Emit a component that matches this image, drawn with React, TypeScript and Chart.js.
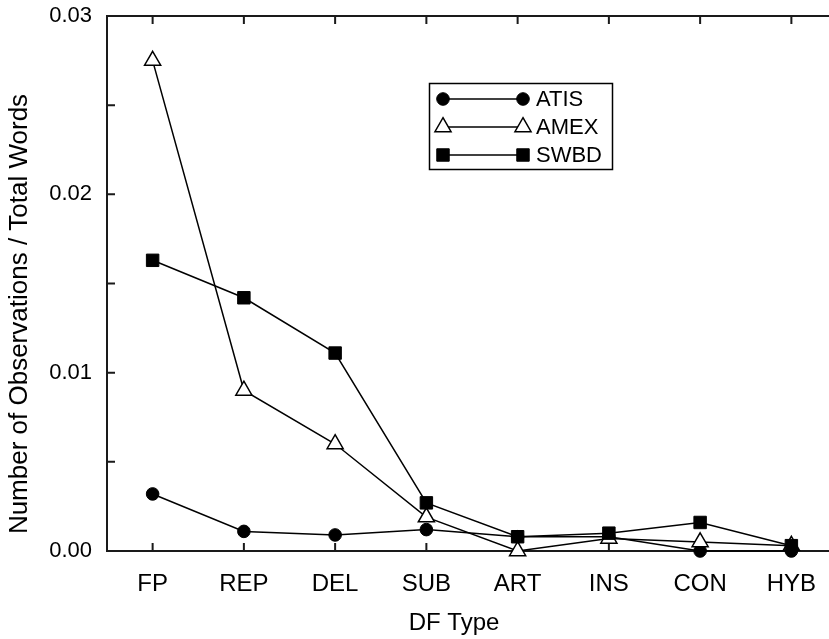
import React, { useEffect, useRef } from "react";
import { Chart, registerables } from "chart.js";
import { drawPoint } from "chart.js/helpers";

Chart.register(...registerables);

const categories = ["FP", "REP", "DEL", "SUB", "ART", "INS", "CON", "HYB"];
const atis = [0.0032, 0.0011, 0.0009, 0.0012, 0.0008, 0.0008, 0.0, 0.0];
const amex = [0.0275, 0.009, 0.006, 0.0019, 0.0, 0.0007, 0.0005, 0.0003];
const swbd = [0.0163, 0.0142, 0.0111, 0.0027, 0.0008, 0.001, 0.0016, 0.0003];
const yTickValues = [0, 0.01, 0.02, 0.03];
const yTickLabels = ["0.00", "0.01", "0.02", "0.03"];
const xTitle = "DF Type";
const yTitle = "Number of Observations / Total Words";

const FONT = "'Liberation Sans', Arial, Helvetica, sans-serif";

const framePlugin = {
  id: "frame",
  beforeDatasetsDraw(chart: any) {
    const { ctx, chartArea: a, scales } = chart;
    ctx.save();
    ctx.strokeStyle = "#1a1a1a";
    ctx.lineWidth = 2;
    ctx.strokeRect(a.left, a.top, a.right - a.left, a.bottom - a.top);
    const T = 8;
    ctx.beginPath();
    scales.x.ticks.forEach((_t: any, i: number) => {
      const px = scales.x.getPixelForTick(i);
      ctx.moveTo(px, a.bottom);
      ctx.lineTo(px, a.bottom - T);
      ctx.moveTo(px, a.top);
      ctx.lineTo(px, a.top + T);
    });
    scales.y.ticks.forEach((_t: any, i: number) => {
      const py = scales.y.getPixelForTick(i);
      ctx.moveTo(a.left, py);
      ctx.lineTo(a.left + T, py);
      ctx.moveTo(a.right, py);
      ctx.lineTo(a.right - T, py);
    });
    ctx.stroke();
    ctx.restore();
  },
};

const titlesPlugin = {
  id: "titles",
  afterDraw(chart: any) {
    const { ctx } = chart;
    ctx.save();
    ctx.fillStyle = "#000";
    ctx.textAlign = "center";
    ctx.textBaseline = "middle";
    ctx.font = `24px ${FONT}`;
    ctx.fillText(xTitle, 454, 623);
    ctx.translate(20, 314);
    ctx.rotate(-Math.PI / 2);
    ctx.font = `26px ${FONT}`;
    ctx.fillText(yTitle, 0, 0);
    ctx.restore();
  },
};

const legendPlugin = {
  id: "customLegend",
  afterDraw(chart: any) {
    const { ctx } = chart;
    const box = { x: 429.5, y: 83.5, w: 183, h: 86 };
    ctx.save();
    ctx.strokeStyle = "#000";
    ctx.lineWidth = 1.5;
    ctx.strokeRect(box.x, box.y, box.w, box.h);
    chart.data.datasets.forEach((ds: any, i: number) => {
      const y = 99 + 28 * i;
      const x1 = 443;
      const x2 = 523;
      ctx.strokeStyle = "#000";
      ctx.lineWidth = 1.5;
      ctx.beginPath();
      ctx.moveTo(x1, y);
      ctx.lineTo(x2, y);
      ctx.stroke();
      ctx.fillStyle = ds.pointBackgroundColor;
      ctx.strokeStyle = ds.pointBorderColor;
      ctx.lineWidth = ds.pointBorderWidth;
      const opts = {
        pointStyle: ds.pointStyle,
        radius: ds.pointRadius,
        borderWidth: ds.pointBorderWidth,
        rotation: 0,
      };
      drawPoint(ctx, opts, x1, y);
      drawPoint(ctx, opts, x2, y);
      ctx.fillStyle = "#000";
      ctx.font = `22px ${FONT}`;
      ctx.textAlign = "left";
      ctx.textBaseline = "middle";
      ctx.fillText(ds.label, 536, y + 1);
    });
    ctx.restore();
  },
};

export default function App() {
  const ref = useRef<HTMLCanvasElement>(null);

  useEffect(() => {
    if (!ref.current) return;
    const chart = new Chart(ref.current, {
      type: "line",
      data: {
        labels: categories,
        datasets: [
          {
            label: "ATIS",
            data: atis,
            borderColor: "#000",
            borderWidth: 1.5,
            pointStyle: "circle",
            pointRadius: 6.3,
            pointBackgroundColor: "#000",
            pointBorderColor: "#000",
            pointBorderWidth: 1,
            tension: 0,
            clip: false,
            order: 3,
          },
          {
            label: "AMEX",
            data: amex,
            borderColor: "#000",
            borderWidth: 1.5,
            pointStyle: "triangle",
            pointRadius: 9.3,
            pointBackgroundColor: "#fff",
            pointBorderColor: "#000",
            pointBorderWidth: 1.5,
            tension: 0,
            clip: false,
            order: 2,
          },
          {
            label: "SWBD",
            data: swbd,
            borderColor: "#000",
            borderWidth: 1.5,
            pointStyle: "rect",
            pointRadius: 8.8,
            pointBackgroundColor: "#000",
            pointBorderColor: "#000",
            pointBorderWidth: 1,
            tension: 0,
            clip: false,
            order: 1,
          },
        ] as any,
      },
      options: {
        responsive: false,
        animation: false,
        devicePixelRatio: 1,
        layout: { padding: { top: 16, right: 33, left: 0, bottom: 0 } },
        plugins: {
          legend: { display: false },
          tooltip: { enabled: false },
        },
        scales: {
          x: {
            type: "category",
            offset: true,
            grid: { display: false, drawTicks: false },
            border: { display: false },
            ticks: {
              font: { family: FONT, size: 24 },
              color: "#000",
              padding: 19,
              maxRotation: 0,
              autoSkip: false,
            },
            title: { display: false },
            afterFit: (s: any) => {
              s.height = 88;
              s.paddingLeft = 0;
              s.paddingRight = 0;
            },
          },
          y: {
            type: "linear",
            min: 0,
            max: 0.03,
            grid: { display: false, drawTicks: false },
            border: { display: false },
            ticks: {
              stepSize: 0.005,
              font: { family: FONT, size: 22 },
              color: "#000",
              padding: 15,
              autoSkip: false,
              callback: (v: any) => {
                const idx = yTickValues.findIndex((t) => Math.abs(t - Number(v)) < 1e-9);
                return idx >= 0 ? yTickLabels[idx] : "";
              },
            },
            title: { display: false },
            afterFit: (s: any) => {
              s.width = 107;
              s.paddingTop = 0;
              s.paddingBottom = 0;
            },
          },
        },
      } as any,
      plugins: [framePlugin, titlesPlugin, legendPlugin],
    });
    return () => chart.destroy();
  }, []);

  return (
    <div
      style={{
        position: "fixed",
        left: 0,
        top: 0,
        width: 829,
        height: 639,
        overflow: "hidden",
        background: "#fff",
      }}
    >
      <canvas ref={ref} width={870} height={639} style={{ display: "block", width: 870, height: 639 }} />
    </div>
  );
}
